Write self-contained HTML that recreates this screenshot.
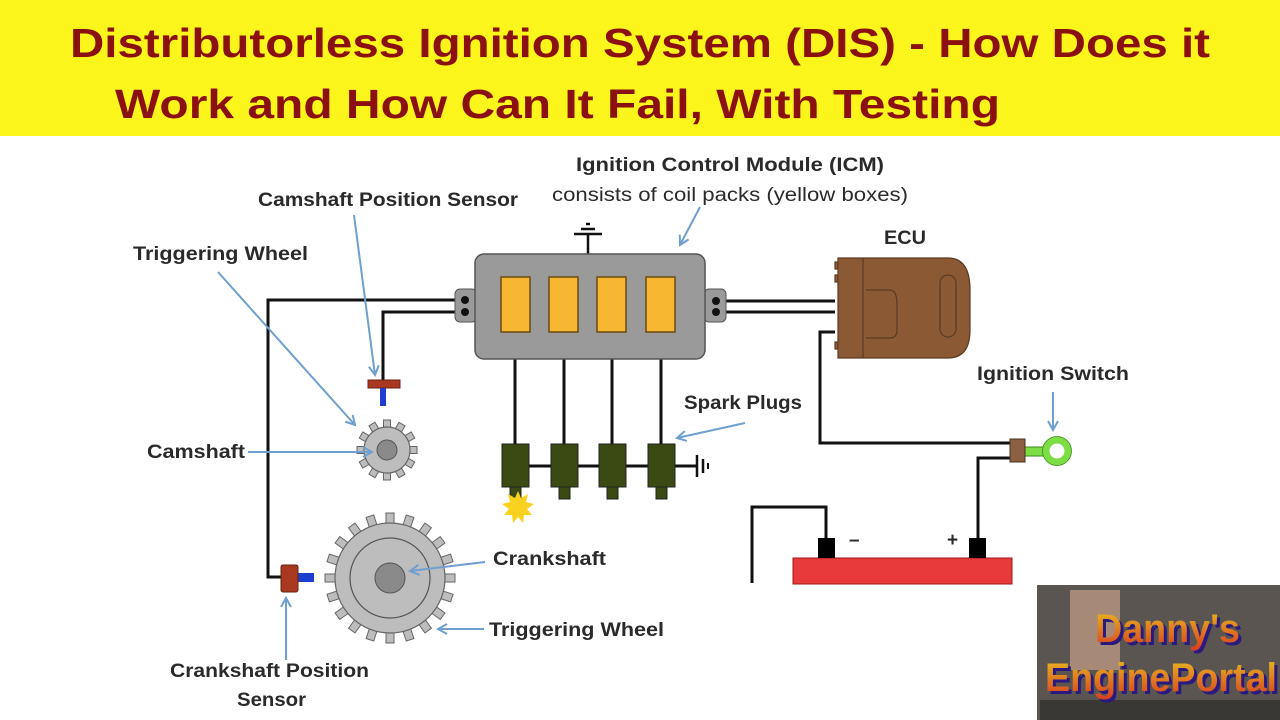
<!DOCTYPE html>
<html><head><meta charset="utf-8"><style>
html,body{margin:0;padding:0;background:#fff;width:1280px;height:720px;overflow:hidden}
svg{display:block}
.t{font-family:"Liberation Sans",sans-serif;font-weight:bold;font-size:19px;fill:#2a2a2a}
.n{font-family:"Liberation Sans",sans-serif;font-size:19px;fill:#2a2a2a}
.a{stroke:#6f9fd0;stroke-width:2;fill:none}
.w{stroke:#111;stroke-width:3;fill:none}
</style></head><body>
<svg id="s" width="1280" height="720" viewBox="0 0 1280 720">
<defs><marker id="ar" markerWidth="12" markerHeight="12" refX="10" refY="6" orient="auto" markerUnits="userSpaceOnUse"><path d="M1,1 L10,6 L1,11" fill="none" stroke="#6f9fd0" stroke-width="2"/></marker></defs>
<rect x="0" y="0" width="1280" height="136" fill="#fcf51c"/>
<text x="70" y="57" font-family="Liberation Sans,sans-serif" font-weight="bold" font-size="41" fill="#8b1010" textLength="1140" lengthAdjust="spacingAndGlyphs">Distributorless Ignition System (DIS) - How Does it</text>
<text x="115" y="118" font-family="Liberation Sans,sans-serif" font-weight="bold" font-size="41" fill="#8b1010" textLength="885" lengthAdjust="spacingAndGlyphs">Work and How Can It Fail, With Testing</text>

<path class="w" d="M455,300 H268 V577 H282"/>
<path class="w" d="M455,312 H383 V381"/>
<path class="w" d="M726,301 H835 M726,312 H835"/>
<path class="w" d="M835,332 H820 V443 H1010"/>
<path class="w" d="M1010,458 H978 V540"/>
<path class="w" d="M826,540 V507 H752 V583"/>
<path class="w" d="M515,330 V445 M564,330 V445 M612,330 V445 M661,330 V445"/>
<path class="w" d="M515,466 H697"/>
<path class="w" d="M697,455 V477 M703,459 V473" style="stroke-width:2.5"/>
<path class="w" d="M708,463 V469" style="stroke-width:2"/>
<path class="w" d="M588,254 V234 M574,234 H602 M581,229 H595 M586,224 H590" style="stroke-width:2.5"/>

<rect x="455" y="289" width="22" height="33" rx="5" fill="#9a9a9a" stroke="#555"/>
<rect x="704" y="289" width="22" height="33" rx="5" fill="#9a9a9a" stroke="#555"/>
<circle cx="465" cy="300" r="4" fill="#111"/><circle cx="465" cy="312" r="4" fill="#111"/>
<circle cx="716" cy="301" r="4" fill="#111"/><circle cx="716" cy="312" r="4" fill="#111"/>
<rect x="475" y="254" width="230" height="105" rx="9" fill="#9a9a9a" stroke="#555" stroke-width="1.5"/>
<g fill="#f7b733" stroke="#6b4a10" stroke-width="1.5">
<rect x="501" y="277" width="29" height="55"/><rect x="549" y="277" width="29" height="55"/>
<rect x="597" y="277" width="29" height="55"/><rect x="646" y="277" width="29" height="55"/></g>
<g fill="#3b4a12" stroke="#222" stroke-width="1">
<rect x="502" y="444" width="27" height="43"/><rect x="551" y="444" width="27" height="43"/>
<rect x="599" y="444" width="27" height="43"/><rect x="648" y="444" width="27" height="43"/>
<rect x="510" y="487" width="11" height="12"/><rect x="559" y="487" width="11" height="12"/>
<rect x="607" y="487" width="11" height="12"/><rect x="656" y="487" width="11" height="12"/></g>
<path d="M518,491 l3,7 7,-4 -2,8 8,2 -7,5 5,6 -8,0 -1,8 -5,-6 -5,6 -1,-8 -8,0 5,-6 -7,-5 8,-2 -2,-8 7,4z" fill="#f8d21e"/>

<g fill="#8b5a35" stroke="#5a3a20" stroke-width="1.2">
<rect x="835" y="262" width="12" height="7"/><rect x="835" y="275" width="12" height="7"/>
<rect x="835" y="342" width="12" height="7"/>
<path d="M838,258 H948 Q970,258 970,290 V330 Q970,358 948,358 H838 Z"/>
<path d="M863,258 V358 M866,290 H890 Q897,290 897,305 V330 Q897,338 890,338 H866" fill="none"/>
<rect x="940" y="275" width="16" height="62" rx="8" fill="none"/></g>

<rect x="1025" y="447" width="22" height="9" fill="#7ddd44" stroke="#3a8a1a"/>
<circle cx="1057" cy="451" r="11" fill="none" stroke="#7ddd44" stroke-width="7"/>
<circle cx="1057" cy="451" r="14.5" fill="none" stroke="#3a8a1a" stroke-width="0.8"/>
<rect x="1010" y="439" width="15" height="23" fill="#8b6040" stroke="#4a3020"/>

<rect x="793" y="558" width="219" height="26" fill="#e83a3a" stroke="#a01818"/>
<rect x="818" y="538" width="17" height="20" fill="#000"/><rect x="969" y="538" width="17" height="20" fill="#000"/>
<text x="849" y="546" class="n" font-weight="bold">–</text><text x="947" y="546" class="n" font-weight="bold">+</text>

<g id="gears"></g>
<rect x="368" y="380" width="32" height="8" fill="#a83820" stroke="#6a2010"/>
<rect x="380" y="388" width="6" height="18" fill="#1e3ed0"/>
<rect x="297" y="573" width="17" height="9" fill="#1e3ed0"/>
<rect x="281" y="565" width="17" height="27" rx="2" fill="#a83820" stroke="#6a2010"/>

<text class="t" x="576" y="171" textLength="308" lengthAdjust="spacingAndGlyphs">Ignition Control Module (ICM)</text>
<text class="n" x="552" y="201" textLength="356" lengthAdjust="spacingAndGlyphs">consists of coil packs (yellow boxes)</text>
<path class="a" d="M700,207 L680,245" marker-end="url(#ar)"/>
<text class="t" x="258" y="206" textLength="260" lengthAdjust="spacingAndGlyphs">Camshaft Position Sensor</text>
<path class="a" d="M354,215 L375,375" marker-end="url(#ar)"/>
<text class="t" x="133" y="260" textLength="175" lengthAdjust="spacingAndGlyphs">Triggering Wheel</text>
<path class="a" d="M218,272 L355,425" marker-end="url(#ar)"/>
<text class="t" x="147" y="458" textLength="98" lengthAdjust="spacingAndGlyphs">Camshaft</text>
<path class="a" d="M248,452 L372,452" marker-end="url(#ar)"/>
<text class="t" x="884" y="244" textLength="42" lengthAdjust="spacingAndGlyphs">ECU</text>
<text class="t" x="977" y="380" textLength="152" lengthAdjust="spacingAndGlyphs">Ignition Switch</text>
<path class="a" d="M1053,392 L1053,430" marker-end="url(#ar)"/>
<text class="t" x="684" y="409" textLength="118" lengthAdjust="spacingAndGlyphs">Spark Plugs</text>
<path class="a" d="M745,423 L677,438" marker-end="url(#ar)"/>
<text class="t" x="493" y="565" textLength="113" lengthAdjust="spacingAndGlyphs">Crankshaft</text>
<path class="a" d="M485,562 L410,571" marker-end="url(#ar)"/>
<text class="t" x="489" y="636" textLength="175" lengthAdjust="spacingAndGlyphs">Triggering Wheel</text>
<path class="a" d="M484,629 L438,629" marker-end="url(#ar)"/>
<text class="t" x="170" y="677" textLength="199" lengthAdjust="spacingAndGlyphs">Crankshaft Position</text>
<text class="t" x="237" y="706" textLength="69" lengthAdjust="spacingAndGlyphs">Sensor</text>
<path class="a" d="M286,660 L286,598" marker-end="url(#ar)"/>

<defs><linearGradient id="lg" x1="0" y1="0" x2="0" y2="1"><stop offset="0" stop-color="#e8c020"/><stop offset="1" stop-color="#d83a20"/></linearGradient></defs>
<rect x="1037" y="585" width="243" height="135" fill="#5a5550"/>
<rect x="1070" y="590" width="50" height="80" fill="#c8a088" opacity="0.7"/>
<rect x="1040" y="700" width="240" height="20" fill="#3a3835"/>
<text x="1098" y="645" font-family="Liberation Sans,sans-serif" font-weight="bold" font-size="40" fill="#2a1a80" textLength="145" lengthAdjust="spacingAndGlyphs">Danny's</text>
<text x="1095" y="642" font-family="Liberation Sans,sans-serif" font-weight="bold" font-size="40" fill="url(#lg)" textLength="145" lengthAdjust="spacingAndGlyphs">Danny's</text>
<text x="1048" y="694" font-family="Liberation Sans,sans-serif" font-weight="bold" font-size="40" fill="#2a1a80" textLength="232" lengthAdjust="spacingAndGlyphs">EnginePortal</text>
<text x="1045" y="691" font-family="Liberation Sans,sans-serif" font-weight="bold" font-size="40" fill="url(#lg)" textLength="232" lengthAdjust="spacingAndGlyphs">EnginePortal</text>
</svg>
<script>
var ns='http://www.w3.org/2000/svg';
function G(cx,cy,r,n,tw,th,extra){var tmp=document.createElementNS(ns,'g');var s='';
for(var i=0;i<n;i++){var a=360*i/n;s+='<rect x="'+(cx-tw/2)+'" y="'+(cy-r-th)+'" width="'+tw+'" height="'+(th+3)+'" fill="#bdbdbd" stroke="#666" stroke-width="1" transform="rotate('+a+' '+cx+' '+cy+')"/>';}
s+='<circle cx="'+cx+'" cy="'+cy+'" r="'+r+'" fill="#bdbdbd" stroke="#666" stroke-width="1.2"/>'+extra;
tmp.innerHTML=s;document.getElementById('gears').appendChild(tmp);}
G(387,450,23,12,7,7,'<circle cx="387" cy="450" r="10" fill="#8a8a8a" stroke="#555"/>');
G(390,578,55,20,8,10,'<circle cx="390" cy="578" r="40" fill="none" stroke="#555" stroke-width="1.2"/><circle cx="390" cy="578" r="15" fill="#8a8a8a" stroke="#555"/>');
</script>
</body></html>
